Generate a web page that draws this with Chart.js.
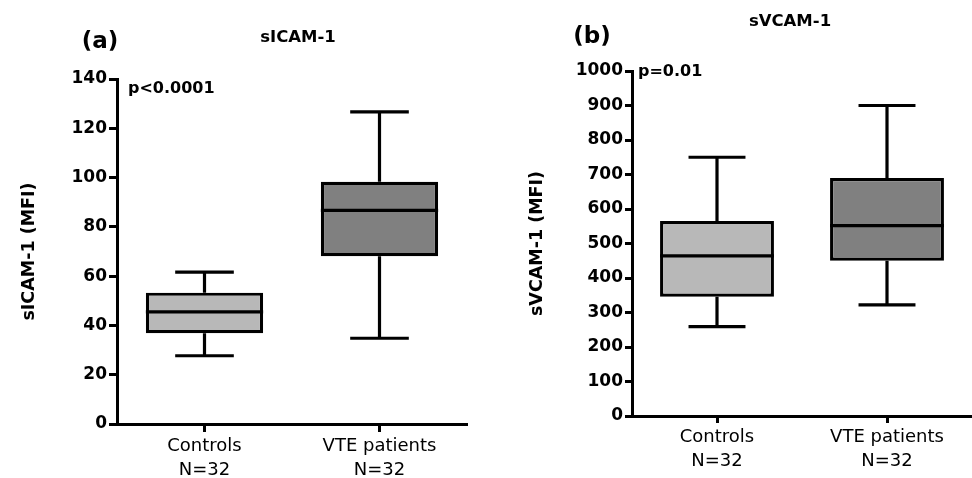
<!DOCTYPE html>
<html>
<head>
<meta charset="utf-8">
<script src="https://cdn.jsdelivr.net/npm/chart.js@4.4.0/dist/chart.umd.min.js"></script>
<style>
  html, body { margin: 0; padding: 0; background: #fff; }
  #wrap { position: relative; width: 972px; height: 478px; }
  .panel { position: absolute; top: 0; width: 486px; height: 478px; }
</style>
</head>
<body>
<div id="wrap">
  <div class="panel" style="left:0"><canvas id="chartA"></canvas></div>
  <div class="panel" style="left:486px"><canvas id="chartB"></canvas></div>
</div>
<script>
// groups on the x axis
const groups = [['Controls', 'N=32'], ['VTE patients', 'N=32']];
const boxColors = ['#b8b8b8', '#808080'];

// (a) sICAM-1 (MFI) - box plot stats
const icamMin = [27.7, 34.8];
const icamQ1 = [36.8, 68.1];
const icamMedian = [45.5, 86.7];
const icamQ3 = [53.3, 98.3];
const icamMax = [61.6, 126.7];

// (b) sVCAM-1 (MFI)
const vcamMin = [259, 322];
const vcamQ1 = [346, 450];
const vcamMedian = [464, 552];
const vcamQ3 = [565, 690];
const vcamMax = [750, 900];

const FONT = 'DejaVu Sans';

// whiskers + caps behind the box, median line on top
function boxPlugin(stats) {
  return {
    id: 'boxParts',
    beforeDatasetsDraw(chart) {
      const { ctx, scales: { x, y } } = chart;
      const bars = chart.getDatasetMeta(0).data;
      ctx.save();
      ctx.strokeStyle = '#000';
      ctx.lineWidth = 3.2;
      bars.forEach((bar, i) => {
        const cx = x.getPixelForValue(i);
        const cap = bar.width / 4;
        const yMax = y.getPixelForValue(stats.max[i]);
        const yMin = y.getPixelForValue(stats.min[i]);
        ctx.beginPath();
        ctx.moveTo(cx, yMax);
        ctx.lineTo(cx, y.getPixelForValue(stats.q3[i]));
        ctx.moveTo(cx, y.getPixelForValue(stats.q1[i]));
        ctx.lineTo(cx, yMin);
        ctx.moveTo(cx - cap, yMax);
        ctx.lineTo(cx + cap, yMax);
        ctx.moveTo(cx - cap, yMin);
        ctx.lineTo(cx + cap, yMin);
        ctx.stroke();
      });
      ctx.restore();
    },
    afterDatasetsDraw(chart) {
      const { ctx, scales: { y } } = chart;
      const bars = chart.getDatasetMeta(0).data;
      ctx.save();
      ctx.strokeStyle = '#000';
      ctx.lineWidth = 3.2;
      bars.forEach((bar, i) => {
        const ym = y.getPixelForValue(stats.median[i]);
        ctx.beginPath();
        ctx.moveTo(bar.x - bar.width / 2, ym);
        ctx.lineTo(bar.x + bar.width / 2, ym);
        ctx.stroke();
      });
      ctx.restore();
    }
  };
}

// panel letter, title and p value
function textPlugin(items) {
  return {
    id: 'panelText',
    afterDraw(chart) {
      const ctx = chart.ctx;
      ctx.save();
      ctx.fillStyle = '#000';
      ctx.textBaseline = 'middle';
      items.forEach(t => {
        ctx.font = t.font;
        ctx.textAlign = t.align;
        ctx.fillText(t.text, t.x, t.y);
      });
      ctx.restore();
    }
  };
}

function makeChart(id, cfg) {
  return new Chart(document.getElementById(id), {
    type: 'bar',
    data: {
      labels: groups,
      datasets: [{
        data: cfg.stats.q1.map((v, i) => [v, cfg.stats.q3[i]]),
        backgroundColor: boxColors,
        borderColor: '#000',
        borderWidth: 3.2,
        borderSkipped: false,
        barPercentage: 0.67,
        categoryPercentage: 1
      }]
    },
    options: {
      responsive: true,
      maintainAspectRatio: false,
      animation: false,
      layout: { padding: { top: cfg.top, right: cfg.right, left: 0, bottom: 0 } },
      plugins: { legend: { display: false }, tooltip: { enabled: false } },
      scales: {
        x: {
          offset: true,
          grid: { offset: false, drawOnChartArea: false, tickLength: cfg.tick, tickWidth: 3, tickColor: '#000' },
          border: { color: '#000', width: 3 },
          ticks: {
            color: '#000',
            font: { family: FONT, size: 18, lineHeight: 1.33 },
            padding: 2, maxRotation: 0, autoSkip: false
          },
          afterFit: s => { s.height = cfg.xHeight; }
        },
        y: {
          min: 0,
          max: cfg.max,
          ticks: {
            stepSize: cfg.step,
            format: { useGrouping: false },
            color: '#000',
            font: { family: FONT, size: 17, weight: 'bold' },
            padding: 2
          },
          grid: { drawOnChartArea: false, tickLength: cfg.tick, tickWidth: 3, tickColor: '#000' },
          border: { color: '#000', width: 3 },
          title: {
            display: true,
            text: cfg.yTitle,
            color: '#000',
            font: { family: FONT, size: 17.5, weight: 'bold' },
            padding: { top: cfg.titlePad, bottom: 0 }
          },
          afterFit: s => { s.width = cfg.yWidth; }
        }
      }
    },
    plugins: [boxPlugin(cfg.stats), textPlugin(cfg.texts)]
  });
}

makeChart('chartA', {
  stats: { min: icamMin, q1: icamQ1, median: icamMedian, q3: icamQ3, max: icamMax },
  max: 140, step: 20,
  yTitle: 'sICAM-1 (MFI)',
  top: 79, right: 19, xHeight: 54, yWidth: 117, tick: 8, titlePad: 18.5,
  texts: [
    { text: '(a)', x: 100, y: 42, font: `bold 23px "${FONT}"`, align: 'center' },
    { text: 'sICAM-1', x: 298, y: 38, font: `bold 16.5px "${FONT}"`, align: 'center' },
    { text: 'p<0.0001', x: 128, y: 89, font: `bold 16px "${FONT}"`, align: 'left' }
  ]
});

makeChart('chartB', {
  stats: { min: vcamMin, q1: vcamQ1, median: vcamMedian, q3: vcamQ3, max: vcamMax },
  max: 1000, step: 100,
  yTitle: 'sVCAM-1 (MFI)',
  top: 71, right: 0, xHeight: 62, yWidth: 146, tick: 7, titlePad: 40.5,
  texts: [
    { text: '(b)', x: 106, y: 37, font: `bold 23px "${FONT}"`, align: 'center' },
    { text: 'sVCAM-1', x: 304, y: 22, font: `bold 16.5px "${FONT}"`, align: 'center' },
    { text: 'p=0.01', x: 152, y: 72, font: `bold 16px "${FONT}"`, align: 'left' }
  ]
});
</script>
</body>
</html>
